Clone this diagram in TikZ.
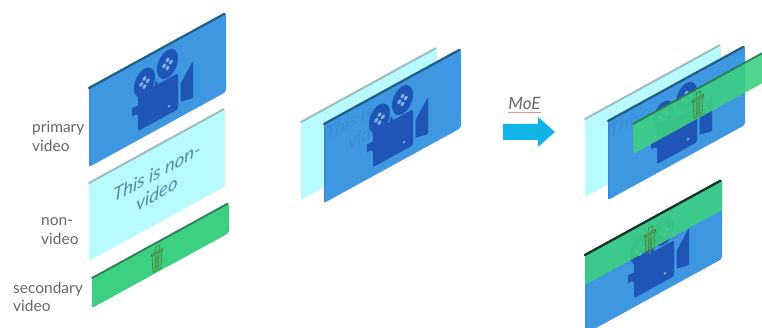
\documentclass[tikz,border=0pt]{standalone}
\usepackage{fontspec}
\setmainfont{Lato}
\definecolor{blueP}{HTML}{3F97E2}
\definecolor{blueE}{HTML}{1E5E88}
\definecolor{camC}{HTML}{1F55B6}
\definecolor{holeC}{HTML}{7DB4EA}
\definecolor{lightP}{HTML}{B8FAFE}
\definecolor{lightE}{HTML}{9DBDBD}
\definecolor{greenP}{HTML}{3DCF82}
\definecolor{greenE}{HTML}{2B7F55}
\definecolor{trashC}{HTML}{4F7F2E}
\definecolor{txtC}{HTML}{4F8FA8}
\definecolor{txtF}{HTML}{3D8AD6}
\definecolor{labC}{HTML}{666666}
\definecolor{arrC}{HTML}{12B4E8}
\tikzset{
  iso/.style={cm={1,0.548,0,1,(#1)}},
  sidelabel/.style={anchor=west,align=left,text=labC,font=\fontsize{15.5}{18.5}\selectfont,inner sep=0pt},
  paneltext/.style={transform shape,align=center,font=\fontsize{18.5}{21}\selectfont\itshape,inner sep=0pt}
}
% camera icon, in the local sheared frame of a panel
\newcommand{\camicon}{%
  \fill[camC,rounded corners=1.5] (49,-34) -- (89,-34) -- (89,-70) -- (49,-70) -- cycle;
  \fill[camC] (43,-44) -- (50,-44) -- (50,-56) -- (47,-52) -- (43,-52) -- cycle;
  \fill[camC] (55.5,-25) ellipse (10.5 and 14);
  \fill[camC] (78.5,-19) ellipse (10.5 and 14);
  \fill[camC,rounded corners=1] (91.5,-46) -- (104,-30) -- (104,-67) -- (91.5,-64) -- cycle;
  \foreach \c/\d in {55.5/-25,78.5/-19}{
    \begin{scope}[shift={(\c,\d)}]
      \fill[holeC] (-3.3,0) circle (2) (3.3,0) circle (2) (0,4) circle (2) (0,-4) circle (2);
    \end{scope}}
  \fill[camC] (64,-38) -- (67,-29) -- (71,-38) -- cycle;
  \fill[holeC] (80,-62) circle (1.4);}
% trash icon, in the local sheared frame of a green panel
\newcommand{\trashicon}{%
  \begin{scope}[draw=trashC,line width=0.6pt,shift={(65,-16)}]
    \draw[fill=trashC,fill opacity=.15] (-5,5) -- (5,5) -- (4,-12) -- (-4,-12) -- cycle;
    \draw (-5.5,5) -- (5.5,5) (-5.5,7) -- (5.5,7) -- (5.5,5) (-5.5,7) -- (-5.5,5);
    \draw (-2,7) -- (-1.5,12) -- (2.5,12) -- (2,7);
    \draw (-1.8,3) -- (-1.5,-10) (0,3) -- (0,-10) (1.8,3) -- (1.5,-10);
  \end{scope}}
\newcommand{\bluepanel}{%
  \fill[blueP,rounded corners=2] (0,0) -- (137,0) -- (137,-79) -- (0,-79) -- cycle;
  \fill[blueP!75!black,opacity=.35] (0,0) rectangle (1.5,-77);
  \draw[blueE,line width=2.2pt,line cap=round] (0,0) -- (135.5,0);}
\newcommand{\lightpanel}{%
  \fill[lightP,rounded corners=2] (0,0) -- (136,0) -- (136,-78) -- (0,-78) -- cycle;
  \draw[lightE,line width=2pt,line cap=round] (0,0) -- (134.5,0);}
\newcommand{\greenpanel}[1]{%
  \fill[greenP,rounded corners=2,opacity=#1] (0,0) -- (137,0) -- (137,-30) -- (0,-30) -- cycle;
  \draw[greenE,line width=1.8pt,line cap=round] (0,0) -- (135.5,0);}
\begin{document}
\begin{tikzpicture}[x=1pt,y=1pt]
\useasboundingbox (0,0) rectangle (762,328);
\clip (0,0) rectangle (762,328);

% left column
\begin{scope}[iso={89,240}]
  \bluepanel \camicon
\end{scope}
\begin{scope}[iso={89,145}]
  \lightpanel
  \node[paneltext,text=txtC] (nvtext) at (68,-37) {This is non-\\video};
\end{scope}
\begin{scope}[iso={92,50}]
  \greenpanel{1}
  \trashicon
\end{scope}
\node[sidelabel] (lab1) at (32,191.5) {primary\\video};
\node[sidelabel] (lab2) at (41,97) {non-\\video};
\node[sidelabel] (lab3) at (13,31) {secondary\\video};

% middle
\begin{scope}[iso={301,206}]
  \lightpanel
\end{scope}
\begin{scope}[iso={324,204}]
  \bluepanel
\end{scope}
\begin{scope}[iso={301,206}]
  \begin{scope}
    \clip (23.5,-1) rectangle (75,-77);
    \node[paneltext,text=txtF] (midtext) at (68,-37) {This is non-\\video};
  \end{scope}
\end{scope}
\begin{scope}[iso={324,204}]
  \camicon
\end{scope}

% arrow
\fill[arrC] (503,204) -- (538,204) -- (538,211) -- (555,196) -- (538,181) -- (538,188) -- (503,188) -- cycle;
\node[inner sep=0pt,text=labC,font=\fontsize{17}{19}\selectfont\itshape] (moe) at (524.5,225) {MoE};
\draw[red!45!white,line width=.7pt] (508,216) -- (541,216);

% right, upper
\begin{scope}[iso={585,209}]
  \lightpanel
\end{scope}
\begin{scope}[iso={608,207}]
  \bluepanel
\end{scope}
\begin{scope}[iso={585,209}]
  \begin{scope}
    \clip (23.5,-1) rectangle (50,-77);
    \node[paneltext,text=txtF] (rtext) at (68,-37) {This is non-\\video};
  \end{scope}
\end{scope}
\begin{scope}[iso={608,207}]
  \camicon
\end{scope}
\begin{scope}[iso={633,204}]
  \greenpanel{.9}
  \trashicon
\end{scope}

% right, lower
\begin{scope}[iso={585,73}]
  \bluepanel
  \begin{scope}
    \clip (1,-1) rectangle (136,-77);
    \node[paneltext,text=txtF] (ltext) at (68,-37) {This is non-\\video};
  \end{scope}
  \camicon
  \fill[greenP,opacity=.9] (0,0) rectangle (137,-30);
  \draw[black!60!greenE,line width=2.2pt,line cap=round] (0,0) -- (135.5,0);
  \begin{scope}[shift={(0,-4)}]
    \trashicon
  \end{scope}
\end{scope}
\end{tikzpicture}
\end{document}
